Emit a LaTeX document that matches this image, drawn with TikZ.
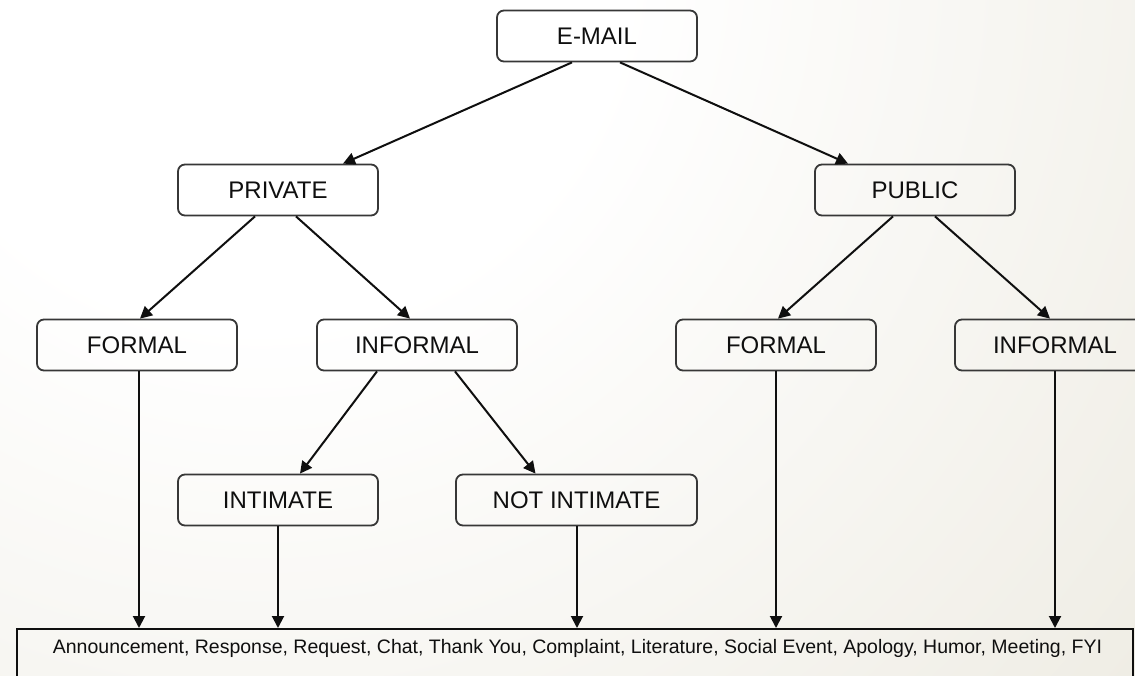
\documentclass[tikz,border=0pt]{standalone}
\usepackage{fontspec}
\setmainfont{Liberation Sans}
\usetikzlibrary{arrows.meta}
\definecolor{paper}{RGB}{226,222,207}
\definecolor{ink}{RGB}{15,15,15}
\definecolor{frame}{RGB}{55,55,55}
\pgfdeclareradialshading{paperglow}{\pgfpoint{0bp}{0bp}}{color(0bp)=(white); color(7bp)=(white); color(34bp)=(paper); color(50bp)=(paper)}
\tikzset{
  catbox/.style={draw=frame, line width=1.8pt, rounded corners=7pt,
    minimum width=200pt, minimum height=51pt, inner sep=0pt,
    text=ink, font=\fontsize{24}{28}\selectfont},
  link/.style={draw=ink, line width=2pt,
    -{Triangle[length=12pt,width=12pt]}},
}
\begin{document}
\begin{tikzpicture}[x=1pt,y=-1pt]
  \useasboundingbox (0,0) rectangle (1135,676);
  \begin{scope}
    \clip (0,0) rectangle (1135,676);
    \shade[shading=paperglow] (260,-40) circle (1300);

    % tree levels
    \node[catbox] (email)    at (597,36)  {E-MAIL};
    \node[catbox] (private)  at (278,190) {PRIVATE};
    \node[catbox] (public)   at (915,190) {PUBLIC};
    \node[catbox] (privform) at (137,345) {FORMAL};
    \node[catbox] (privinf)  at (417,345) {INFORMAL};
    \node[catbox] (pubform)  at (776,345) {FORMAL};
    \node[catbox] (pubinf)   at (1055,345) {INFORMAL};
    \node[catbox] (intimate) at (278,500) {INTIMATE};
    \node[catbox, minimum width=241pt] (notint) at (576.5,500) {NOT INTIMATE};

    % category list box, running past the lower edge
    \node[draw=ink, line width=1.8pt, minimum width=1116pt, minimum height=90pt,
          anchor=north, inner sep=0pt] (catlist) at (575,628) {};
    \node[text=ink, font=\fontsize{19.5}{23}\selectfont] (cattext) at (577.5,648)
      {Announcement, Response, Request, Chat, Thank You, Complaint, Literature, Social Event, Apology, Humor, Meeting, FYI};

    % branches
    \draw[link] ([xshift=-25pt]email.south) -- ([xshift=65pt]private.north);
    \draw[link] ([xshift=23pt]email.south) -- ([xshift=-67pt]public.north);
    \draw[link] ([xshift=-23pt]private.south) -- ([xshift=3pt]privform.north);
    \draw[link] ([xshift=18pt]private.south) -- ([xshift=-7pt]privinf.north);
    \draw[link] ([xshift=-22pt]public.south) -- ([xshift=2pt]pubform.north);
    \draw[link] ([xshift=20pt]public.south) -- ([xshift=-5pt]pubinf.north);
    \draw[link] ([xshift=-40pt]privinf.south) -- ([xshift=22pt]intimate.north);
    \draw[link] ([xshift=38pt]privinf.south) -- ([xshift=-41pt]notint.north);

    % drops into the category list
    \draw[link] ([xshift=2pt]privform.south) -- ([xshift=2pt]privform.south |- catlist.north);
    \draw[link] (intimate.south) -- (intimate.south |- catlist.north);
    \draw[link] ([xshift=0.5pt]notint.south) -- ([xshift=0.5pt]notint.south |- catlist.north);
    \draw[link] (pubform.south) -- (pubform.south |- catlist.north);
    \draw[link] (pubinf.south) -- (pubinf.south |- catlist.north);
  \end{scope}
\end{tikzpicture}
\end{document}
